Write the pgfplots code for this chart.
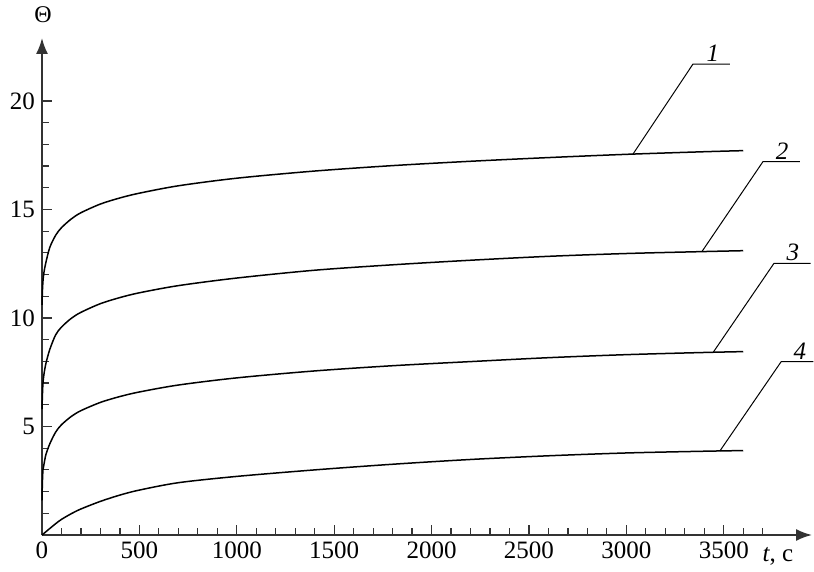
\documentclass[border=0pt]{standalone}
\usepackage{fontspec}
\setmainfont{Liberation Serif}
\usepackage{pgfplots}
\pgfplotsset{compat=1.18}
\usetikzlibrary{arrows.meta}
\begin{document}
\begin{tikzpicture}
\begin{axis}[
  scale only axis, width=385pt, height=248.5pt,
  xmin=0, xmax=3953, ymin=0, ymax=22.9,
  axis lines=left,
  axis line style={line width=0.9pt, black!80, -{Latex[length=8pt,width=6pt]}},
  xtick={0,500,...,3500}, minor xtick={100,200,...,3700},
  ytick={5,10,15,20}, minor ytick={1,...,19},
  major tick length=5pt, minor tick length=3.5pt,
  tick style={black!80, line width=0.6pt},
  tick align=inside,
  ticklabel style={font=\fontsize{12.5}{14}\selectfont},
  /pgf/number format/assume math mode=true,
  xticklabel style={/pgf/number format/1000 sep={}},
  clip=false,
]
\addplot[black, line width=0.75pt, smooth] coordinates {
(0,10.6) (2,11.2) (5,11.7) (10,12.1) (20,12.56) (40,13.25) (70,13.81) (100,14.16) (150,14.56) (200,14.85) (300,15.25) (400,15.53) (500,15.75) (700,16.09) (1000,16.44) (1400,16.77) (1800,17.02) (2200,17.22) (2600,17.39) (3000,17.54) (3400,17.66) (3600,17.71)};
\addplot[black, line width=0.75pt, smooth] coordinates {
(0,5.8) (2,6.4) (5,7.0) (10,7.4) (20,7.9) (40,8.55) (70,9.22) (100,9.58) (150,9.98) (200,10.26) (300,10.66) (400,10.94) (500,11.16) (700,11.49) (1000,11.84) (1400,12.2) (1800,12.45) (2200,12.66) (2600,12.84) (3000,12.97) (3400,13.06) (3600,13.1)};
\addplot[black, line width=0.75pt, smooth] coordinates {
(0,1.6) (2,2.4) (5,3.0) (10,3.25) (20,3.7) (40,4.2) (70,4.74) (100,5.08) (150,5.46) (200,5.73) (300,6.11) (400,6.38) (500,6.59) (700,6.91) (1000,7.24) (1400,7.56) (1800,7.8) (2200,7.99) (2600,8.17) (3000,8.31) (3400,8.41) (3600,8.45)};
\addplot[black, line width=0.75pt, smooth] coordinates {
(0,0) (20,0.15) (40,0.3) (70,0.52) (100,0.72) (150,0.98) (200,1.2) (300,1.55) (400,1.84) (500,2.07) (700,2.41) (1000,2.7) (1400,3.0) (1800,3.26) (2200,3.48) (2600,3.65) (3000,3.78) (3400,3.86) (3600,3.89)};
% leaders
\draw[line width=0.5pt] (axis cs:3034,17.55) -- (axis cs:3342,21.7) -- (axis cs:3532,21.7);
\draw[line width=0.5pt] (axis cs:3388,13.06) -- (axis cs:3701,17.2) -- (axis cs:3891,17.2);
\draw[line width=0.5pt] (axis cs:3446,8.42) -- (axis cs:3758,12.52) -- (axis cs:3946,12.52);
\draw[line width=0.5pt] (axis cs:3480,3.87) -- (axis cs:3795,7.99) -- (axis cs:3960,7.99);
\node[anchor=south, inner sep=1pt, font=\fontsize{12.5}{14}\selectfont\itshape] at (axis cs:3444,21.7) {1};
\node[anchor=south, inner sep=1pt, font=\fontsize{12.5}{14}\selectfont\itshape] at (axis cs:3799,17.2) {2};
\node[anchor=south, inner sep=1pt, font=\fontsize{12.5}{14}\selectfont\itshape] at (axis cs:3855,12.52) {3};
\node[anchor=south, inner sep=1pt, font=\fontsize{12.5}{14}\selectfont\itshape] at (axis cs:3891,7.99) {4};
\node[font=\fontsize{12}{14}\selectfont] at (axis cs:5,23.96) {Θ};
\node[anchor=base, font=\fontsize{12.5}{14}\selectfont] at (axis cs:3778,-1.2) {\textit{t}, с};
\end{axis}
\path (-21pt,-13.5pt) rectangle (386pt,267.5pt);
\end{tikzpicture}
\end{document}
